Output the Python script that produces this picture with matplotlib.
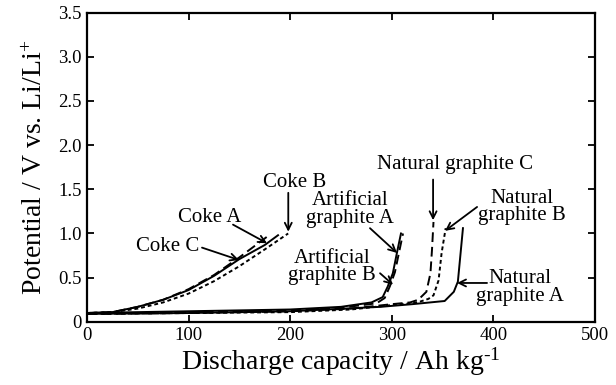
import matplotlib
matplotlib.use("Agg")
import matplotlib.pyplot as plt

plt.rcParams['font.family'] = ['Liberation Serif', 'DejaVu Serif']
plt.rcParams['mathtext.fontset'] = 'custom'
plt.rcParams['mathtext.rm'] = 'Liberation Serif'
plt.rcParams['mathtext.default'] = 'regular'

# discharge curves: capacity (Ah/kg) vs potential (V)
coke_a_x = [0, 25, 50, 75, 100, 125, 150, 178]
coke_a_y = [0.10, 0.11, 0.17, 0.25, 0.37, 0.53, 0.73, 0.97]
coke_b_x = [0, 25, 50, 75, 100, 125, 150, 175, 198]
coke_b_y = [0.10, 0.11, 0.15, 0.22, 0.32, 0.46, 0.63, 0.82, 1.00]
coke_c_x = [0, 25, 50, 75, 100, 125, 150, 175, 188]
coke_c_y = [0.10, 0.11, 0.17, 0.25, 0.36, 0.52, 0.71, 0.87, 0.98]

art_a_x = [0, 50, 100, 150, 200, 250, 280, 291, 296, 301, 305, 309]
art_a_y = [0.10, 0.11, 0.12, 0.13, 0.14, 0.17, 0.22, 0.28, 0.40, 0.55, 0.78, 1.00]
art_b_x = [0, 50, 100, 150, 200, 250, 285, 293, 298, 303, 307, 311]
art_b_y = [0.09, 0.10, 0.11, 0.12, 0.13, 0.16, 0.21, 0.27, 0.40, 0.56, 0.78, 1.00]

nat_a_x = [0, 100, 200, 289, 320, 352, 361, 365, 370]
nat_a_y = [0.09, 0.10, 0.12, 0.17, 0.20, 0.236, 0.34, 0.455, 1.06]
nat_b_x = [0, 100, 200, 260, 300, 320, 328, 336, 341, 346, 349, 353]
nat_b_y = [0.09, 0.10, 0.11, 0.14, 0.19, 0.21, 0.23, 0.26, 0.30, 0.47, 0.78, 1.06]
nat_c_x = [0, 100, 200, 260, 300, 318, 326, 334, 338, 339.5, 341]
nat_c_y = [0.09, 0.10, 0.12, 0.15, 0.20, 0.22, 0.25, 0.34, 0.55, 0.81, 1.13]

x_ticks = [0, 100, 200, 300, 400, 500]
y_ticks = [0, 0.5, 1.0, 1.5, 2.0, 2.5, 3.0, 3.5]
y_tick_labels = ['0', '0.5', '1.0', '1.5', '2.0', '2.5', '3.0', '3.5']

dashed = (0, (5, 2.5))
dotted = (0, (2, 1.5))

fig = plt.figure(figsize=(6.16, 3.85), dpi=100)
ax = fig.add_axes([0.1412, 0.164, 0.8248, 0.8035])

lw = 1.4
ax.plot(coke_c_x, coke_c_y, color='black', lw=lw)
ax.plot(coke_a_x, coke_a_y, color='black', lw=lw, ls=dashed)
ax.plot(coke_b_x, coke_b_y, color='black', lw=lw, ls=dotted)
ax.plot(art_a_x, art_a_y, color='black', lw=lw)
ax.plot(art_b_x, art_b_y, color='black', lw=lw, ls=dashed)
ax.plot(nat_a_x, nat_a_y, color='black', lw=lw)
ax.plot(nat_b_x, nat_b_y, color='black', lw=lw, ls=dotted)
ax.plot(nat_c_x, nat_c_y, color='black', lw=lw, ls=dashed)

arrow = dict(arrowstyle='->,head_length=0.5,head_width=0.25', color='black', lw=1.3,
             shrinkA=0, shrinkB=0)
fs = 15

def label(text, txy, start, end):
    ax.text(txy[0], txy[1], text, ha='center', va='center', fontsize=fs,
            linespacing=0.9, multialignment='center')
    ax.annotate('', xy=end, xytext=start, arrowprops=arrow)

label('Coke B', (204.7, 1.58), (198.1, 1.46), (198.1, 1.02))
label('Coke A', (121, 1.18), (143.7, 1.10), (177.2, 0.89))
label('Coke C', (79.7, 0.85), (113.2, 0.84), (149.6, 0.70))
label('Artificial\ngraphite A', (258.9, 1.27), (278.5, 1.06), (305.1, 0.78))
label('Artificial\ngraphite B', (241.1, 0.62), (288.4, 0.55), (301.2, 0.42))
label('Natural graphite C', (362.2, 1.78), (340.6, 1.61), (340.6, 1.15))
label('Natural\ngraphite B', (428.1, 1.30), (383.9, 1.30), (352.4, 1.03))
label('Natural\ngraphite A', (426.2, 0.39), (393.7, 0.44), (364.2, 0.44))

ax.set_xlim(0, 500)
ax.set_ylim(0, 3.5)
ax.set_xticks(x_ticks)
ax.set_yticks(y_ticks)
ax.set_yticklabels(y_tick_labels)
ax.tick_params(direction='in', top=True, right=True, length=5, width=1.3,
               labelsize=13.5, pad=4)
for s in ax.spines.values():
    s.set_linewidth(1.6)

ax.set_xlabel(r'Discharge capacity / Ah kg$^{\text{-1}}$', fontsize=20, labelpad=1)
ax.set_ylabel(r'Potential / V vs. Li/Li$^{\text{+}}$', fontsize=20, labelpad=7)

fig.savefig('out.png', dpi=100)
